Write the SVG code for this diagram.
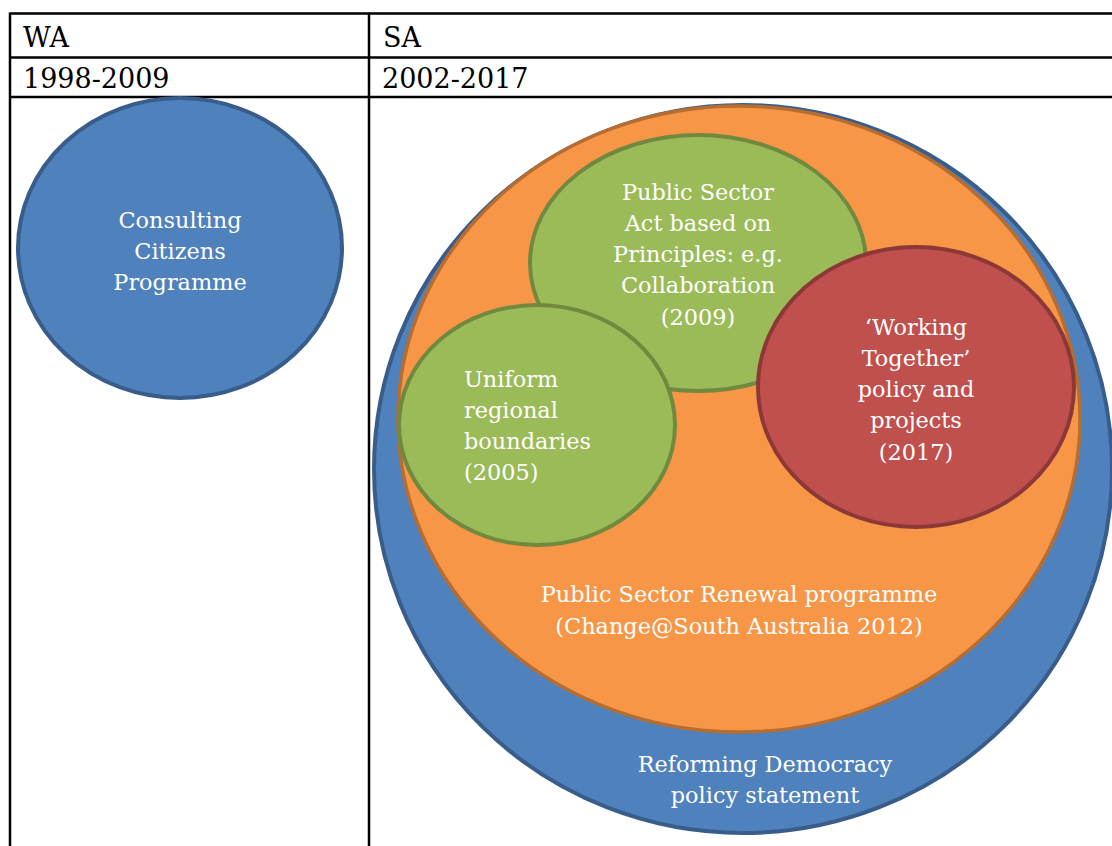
<svg xmlns="http://www.w3.org/2000/svg" width="1112" height="846" viewBox="0 0 1112 846">
<style>
.grid{stroke:#000;stroke-width:2.5;fill:none}
.hdr{font-family:"DejaVu Serif","Liberation Serif",serif;font-size:27px;fill:#000}
.lbl{font-family:"DejaVu Serif","Liberation Serif",serif;font-size:22.4px;fill:#fff;text-anchor:middle}
.lbl-l{font-family:"DejaVu Serif","Liberation Serif",serif;font-size:22.4px;fill:#fff}
.blue{fill:#4F81BD;stroke:#385D8A;stroke-width:4}
.orange{fill:#F79646;stroke:#B66D31;stroke-width:3.5}
.green{fill:#9BBB59;stroke:#71893F;stroke-width:4}
.red{fill:#C0504D;stroke:#8C3836;stroke-width:4}
</style>
<rect width="1112" height="846" fill="#fff"/>
<g id="table">
<line class="grid" x1="10" y1="13.5" x2="1112" y2="13.5"/>
<line class="grid" x1="10" y1="57.5" x2="1112" y2="57.5"/>
<line class="grid" x1="10" y1="97" x2="1112" y2="97"/>
<line class="grid" x1="10" y1="12.5" x2="10" y2="846"/>
<line class="grid" x1="369" y1="12.5" x2="369" y2="846"/>
<text class="hdr" x="23" y="47">WA</text>
<text class="hdr" x="383" y="47">SA</text>
<text class="hdr" x="23" y="88">1998-2009</text>
<text class="hdr" x="382" y="88">2002-2017</text>
</g>
<g id="consulting">
<ellipse class="blue" cx="180" cy="248" rx="162" ry="150"/>
<text class="lbl" x="180" y="228">Consulting</text>
<text class="lbl" x="180" y="259">Citizens</text>
<text class="lbl" x="180" y="290">Programme</text>
</g>
<g id="reforming">
<ellipse class="blue" cx="743" cy="469" rx="369" ry="364"/>
<text class="lbl" x="765" y="772">Reforming Democracy</text>
<text class="lbl" x="765" y="803">policy statement</text>
</g>
<g id="renewal">
<ellipse class="orange" cx="739" cy="419" rx="341" ry="313"/>
<text class="lbl" x="739" y="602">Public Sector Renewal programme</text>
<text class="lbl" x="739" y="634">(Change@South Australia 2012)</text>
</g>
<g id="act">
<ellipse class="green" cx="698" cy="263" rx="168" ry="128"/>
<text class="lbl" x="698" y="200">Public Sector</text>
<text class="lbl" x="698" y="231">Act based on</text>
<text class="lbl" x="698" y="262">Principles: e.g.</text>
<text class="lbl" x="698" y="293">Collaboration</text>
<text class="lbl" x="698" y="325">(2009)</text>
</g>
<g id="uniform">
<ellipse class="green" cx="537" cy="425" rx="138" ry="120"/>
<text class="lbl-l" x="464" y="387">Uniform</text>
<text class="lbl-l" x="464" y="418">regional</text>
<text class="lbl-l" x="464" y="449">boundaries</text>
<text class="lbl-l" x="464" y="480">(2005)</text>
</g>
<g id="working">
<ellipse class="red" cx="916" cy="387" rx="158" ry="140"/>
<text class="lbl" x="916" y="335">‘Working</text>
<text class="lbl" x="916" y="366">Together’</text>
<text class="lbl" x="916" y="397">policy and</text>
<text class="lbl" x="916" y="428">projects</text>
<text class="lbl" x="916" y="460">(2017)</text>
</g>
<g id="connectors"/>
</svg>
